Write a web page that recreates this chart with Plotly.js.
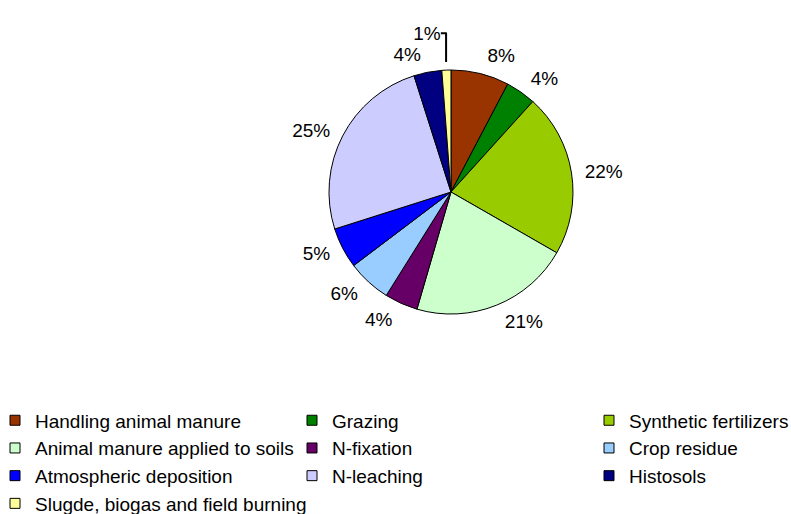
<!DOCTYPE html>
<html>
<head>
<meta charset="utf-8">
<script src="https://cdn.plot.ly/plotly-3.0.1.min.js"></script>
<style>
  html, body { margin: 0; padding: 0; background: #ffffff; }
  #chart { width: 791px; height: 514px; }
</style>
</head>
<body>
<div id="chart"></div>
<script>
const categories = [
  "Handling animal manure",
  "Grazing",
  "Synthetic fertilizers",
  "Animal manure applied to soils",
  "N-fixation",
  "Crop residue",
  "Atmospheric deposition",
  "N-leaching",
  "Histosols",
  "Slugde, biogas and field burning"
];
const shares = [7.7, 4.0, 21.6, 21.2, 4.4, 5.8, 5.4, 25.0, 3.7, 1.2];
const sliceColors = [
  "#993300", "#008000", "#99CC00", "#CCFFCC", "#660066",
  "#99CCFF", "#0000FF", "#CCCCFF", "#000080", "#FFFF99"
];

const FONT = '"Liberation Sans", Arial, sans-serif';

// The visible pie
const pieTrace = {
  type: "pie",
  labels: categories,
  values: shares,
  sort: false,
  direction: "clockwise",
  rotation: 0,
  showlegend: false,
  marker: { colors: sliceColors, line: { color: "#000000", width: 1 } },
  textinfo: "none",
  hoverinfo: "label+percent",
  domain: { x: [0.4159, 0.7244], y: [0.2030, 0.8223] }
};

// Same data, transparent and slightly larger: carries the outside % labels
// so they sit a little away from the pie edge, as in the original
const labelTrace = {
  type: "pie",
  labels: categories,
  values: shares,
  sort: false,
  direction: "clockwise",
  rotation: 0,
  showlegend: false,
  marker: { colors: categories.map(function () { return "rgba(0,0,0,0)"; }), line: { width: 0 } },
  texttemplate: "%{percent:.0%}",
  textposition: "outside",
  outsidetextfont: { family: FONT, size: 19, color: "#000000" },
  hoverinfo: "skip",
  domain: { x: [0.4058, 0.7345], y: [0.1827, 0.8426] }
};

// Legend entries, laid out in three columns like the original (row-major order)
const legendIds = ["legend", "legend2", "legend3"];
const legendTraces = categories.map(function (name, i) {
  return {
    type: "scatter",
    mode: "markers",
    x: [null],
    y: [null],
    name: name,
    legend: legendIds[i % 3],
    hoverinfo: "skip",
    marker: {
      symbol: "square",
      size: 10,
      color: sliceColors[i],
      line: { color: "#000000", width: 1 }
    }
  };
});

function legendAt(xpx) {
  return {
    orientation: "v",
    x: xpx / 791,
    xanchor: "left",
    y: -0.0188,
    yanchor: "top",
    traceorder: "normal",
    font: { family: FONT, size: 19, color: "#000000" },
    bgcolor: "rgba(0,0,0,0)",
    borderwidth: 0
  };
}

const layout = {
  width: 791,
  height: 514,
  margin: { l: 0, r: 0, t: 0, b: 120, autoexpand: false },
  paper_bgcolor: "#ffffff",
  plot_bgcolor: "#ffffff",
  font: { family: FONT, size: 19, color: "#000000" },
  showlegend: true,
  xaxis: { visible: false, fixedrange: true },
  yaxis: { visible: false, fixedrange: true },
  legend: legendAt(-5),
  legend2: legendAt(292),
  legend3: legendAt(589)
};

Plotly.newPlot("chart", [pieTrace, labelTrace].concat(legendTraces), layout, { displayModeBar: false, staticPlot: true });
</script>
</body>
</html>
